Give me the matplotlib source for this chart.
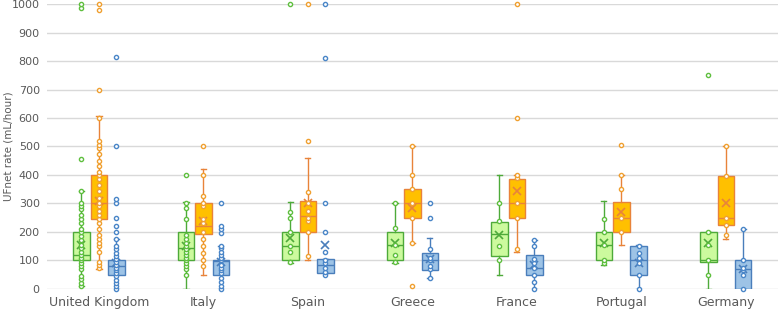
import matplotlib
matplotlib.use("Agg")
import matplotlib.pyplot as plt
import numpy as np

countries = ["United Kingdom", "Italy", "Spain", "Greece", "France", "Portugal", "Germany"]
y_ticks = list(range(0, 1001, 100))
y_label = "UFnet rate (mL/hour)"

# Box statistics per country: [whisker low, Q1, median, Q3, whisker high, mean]
green_stats = [
    [10, 100, 120, 200, 345, 155],
    [0, 100, 145, 200, 305, 150],
    [90, 100, 150, 200, 305, 180],
    [90, 100, 155, 200, 300, 160],
    [50, 115, 192, 235, 400, 190],
    [85, 100, 155, 200, 310, 160],
    [0, 95, 100, 200, 200, 160],
]
orange_stats = [
    [70, 245, 300, 400, 608, 310],
    [50, 192, 220, 300, 420, 240],
    [100, 200, 255, 310, 458, 300],
    [160, 250, 300, 350, 500, 285],
    [128, 250, 300, 385, 400, 345],
    [155, 200, 250, 305, 400, 270],
    [175, 225, 250, 395, 502, 300],
]
blue_stats = [
    [0, 50, 80, 100, 175, 90],
    [0, 50, 97, 100, 150, 95],
    [55, 55, 85, 105, 105, 155],
    [40, 65, 100, 125, 180, 105],
    [0, 50, 75, 120, 170, 85],
    [0, 50, 100, 150, 155, 90],
    [0, 0, 70, 100, 210, 70],
]

# Individual points (inner points and outliers)
green_points = [
    [10, 20, 35, 45, 70, 80, 90, 100, 110, 120, 130, 145, 155, 170, 185, 200, 210, 230,
     245, 260, 280, 290, 300, 345, 455, 985, 1000],
    [50, 70, 80, 90, 100, 110, 120, 130, 140, 150, 160, 175, 190, 245, 285, 300, 400],
    [95, 130, 150, 200, 250, 270, 1000],
    [95, 120, 155, 215, 300],
    [100, 150, 240, 300],
    [90, 100, 155, 200, 245],
    [50, 100, 155, 200, 750],
]
orange_points = [
    [75, 85, 95, 130, 150, 160, 175, 190, 210, 230, 245, 260, 275, 290, 300, 320, 345,
     365, 385, 400, 410, 430, 450, 475, 495, 505, 520, 600, 700, 980, 1000],
    [80, 100, 125, 150, 175, 200, 230, 245, 290, 300, 325, 400, 500],
    [115, 200, 240, 250, 275, 300, 340, 520, 1000],
    [160, 250, 300, 350, 400, 500, 10],
    [140, 250, 300, 390, 400, 600, 1000],
    [200, 250, 350, 400, 505],
    [190, 225, 250, 395, 500],
]
blue_points = [
    [0, 10, 20, 30, 45, 55, 65, 75, 85, 95, 105, 115, 125, 140, 150, 175, 200, 220, 250,
     300, 315, 500, 815],
    [0, 10, 25, 40, 55, 65, 75, 85, 100, 110, 120, 130, 145, 150, 195, 210, 220, 300],
    [50, 60, 75, 90, 100, 130, 200, 300, 810, 1000],
    [40, 70, 80, 100, 110, 140, 250, 300],
    [0, 25, 50, 75, 90, 105, 150, 170],
    [0, 50, 90, 110, 125, 150],
    [0, 50, 65, 75, 100, 210],
]

series = [
    (green_stats, green_points, "#ccfa9e", "#4eaa3a", "#5fbf3f", -0.167),
    (orange_stats, orange_points, "#ffc000", "#e8833a", "#f0a030", 0.0),
    (blue_stats, blue_points, "#9dc3e6", "#4a7ebb", "#4a86c8", 0.167),
]

fig = plt.figure(figsize=(7.78, 3.12), dpi=100)
ax = fig.add_axes([0.060, 0.074, 0.940, 0.913])

width = 0.158
for stats, points, fill, edge, ptcol, off in series:
    bstats = []
    for s in stats:
        bstats.append(dict(whislo=s[0], q1=s[1], med=s[2], q3=s[3], whishi=s[4],
                           mean=s[5], fliers=[]))
    pos = np.arange(len(countries)) + off
    ax.bxp(bstats, positions=pos, widths=width, patch_artist=True,
           showmeans=True, showfliers=False,
           boxprops=dict(facecolor=fill, edgecolor=edge, linewidth=1.0),
           medianprops=dict(color=edge, linewidth=1.0),
           whiskerprops=dict(color=edge, linewidth=1.0),
           capprops=dict(color=edge, linewidth=1.0),
           capwidths=0.05,
           meanprops=dict(marker="x", markeredgecolor=edge, markersize=5.5,
                          markeredgewidth=1.2),
           zorder=3)
    for i, pts in enumerate(points):
        ax.plot([pos[i]] * len(pts), pts, linestyle="none", marker="o",
                markersize=3.0, markerfacecolor="white", markeredgecolor=ptcol,
                markeredgewidth=1.0, zorder=4, clip_on=False)

ax.set_xlim(-0.5, len(countries) - 0.5)
ax.set_ylim(0, 1000)
ax.set_yticks(y_ticks)
ax.set_yticklabels([str(v) for v in y_ticks], fontsize=8, color="#595959")
ax.set_xticks(np.arange(len(countries)))
ax.set_xticklabels(countries, fontsize=9, color="#595959")
ax.tick_params(axis="both", length=0, pad=5)
ax.grid(axis="y", color="#d9d9d9", linewidth=1.0, zorder=0)
ax.set_axisbelow(True)
for sp in ax.spines.values():
    sp.set_visible(False)
fig.text(0.011, 0.53, y_label, rotation=90, fontsize=7.5, color="#595959",
         ha="center", va="center")

fig.savefig("out.png", dpi=100)
